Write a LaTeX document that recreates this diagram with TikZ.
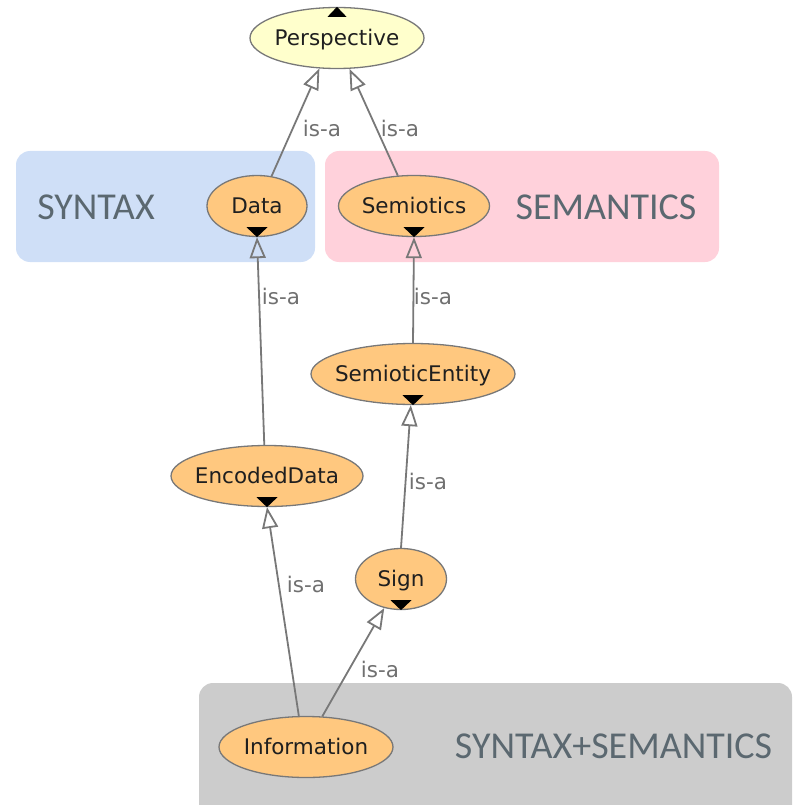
\documentclass[tikz,border=0pt]{standalone}
\usepackage{fontspec}
\setmainfont{DejaVu Sans}
\newfontfamily\regionfont{Carlito}
\usetikzlibrary{shapes.geometric,arrows.meta}
\definecolor{syntaxbg}{HTML}{CFDFF7}
\definecolor{semanticsbg}{HTML}{FFD1DB}
\definecolor{bothbg}{HTML}{CCCCCC}
\definecolor{regiontext}{HTML}{5B6870}
\definecolor{conceptfill}{HTML}{FFC87F}
\definecolor{rootfill}{HTML}{FFFFCC}
\definecolor{edgegray}{HTML}{787878}
\definecolor{labelgray}{HTML}{707070}

\begin{document}
\begin{tikzpicture}[x=1pt,y=-1pt,
  regionlabel/.style={font=\regionfont\fontsize{38}{44}\selectfont, text=regiontext, inner sep=0},
  concept/.style={ellipse, draw=edgegray, line width=1.3pt, fill=conceptfill, inner sep=0,
    minimum height=61pt, text height=15.7pt, text depth=0pt,
    font=\fontsize{21.5}{26}\selectfont, text=black!88},
  isa/.style={draw=edgegray, line width=1.8pt, -{Triangle[open, length=21pt, width=16pt]}},
  isalabel/.style={font=\fontsize{21.5}{26}\selectfont, text=labelgray, inner sep=0},
  marker/.style={fill=black},
]
\useasboundingbox (0,0) rectangle (794,805);

% shaded regions
\begin{scope}
  \clip (0,0) rectangle (794,805);
  \fill[syntaxbg, rounded corners=14pt] (16,151) rectangle (315,262);
  \fill[semanticsbg, rounded corners=14pt] (325,151) rectangle (719,262);
  \fill[bothbg, rounded corners=14pt] (199,683) rectangle (792,830);
\end{scope}
\node[regionlabel] (syn) at (96,207.5) {SYNTAX};
\node[regionlabel] (sem) at (606,207.5) {SEMANTICS};
\node[regionlabel] (synsem) at (613.5,746) {SYNTAX+SEMANTICS};

% concepts
\node[concept, fill=rootfill, minimum width=174pt] (persp) at (337,38) {\makebox[0pt]{Perspective}};
\node[concept, minimum width=100pt] (data) at (257,206) {\makebox[0pt]{Data}};
\node[concept, minimum width=151pt] (semio) at (414,206) {\makebox[0pt]{Semiotics}};
\node[concept, minimum width=204pt] (sement) at (413,374) {\makebox[0pt]{SemioticEntity}};
\node[concept, minimum width=192pt] (enc) at (267,476) {\makebox[0pt]{EncodedData}};
\node[concept, minimum width=91pt] (sign) at (401,579) {\makebox[0pt]{Sign}};
\node[concept, minimum width=174pt] (info) at (306,747) {\makebox[0pt]{Information}};

% expand / collapse markers
\foreach \n in {data,semio,sement,enc,sign}
  \fill[marker] (\n.south) -- ++(-10.5,-10) -- ++(21,0) -- cycle;
\fill[marker] (persp.north) -- ++(-9.5,10) -- ++(19,0) -- cycle;

% is-a relations
\draw[isa] (data.64) -- (persp.240);
\draw[isa] (semio.118) -- (persp.292);
\draw[isa] (enc.95) -- (data.south);
\draw[isa] (sement.north) -- (semio.south);
\draw[isa] (sign.north) -- (sement.266);
\draw[isa] (info.103) -- (enc.south);
\draw[isa] (info.62) -- (sign.240);

\node[isalabel] (l1) at (322,128) {is-a};
\node[isalabel] (l2) at (400,128) {is-a};
\node[isalabel] (l3) at (281,296) {is-a};
\node[isalabel] (l4) at (433,296) {is-a};
\node[isalabel] (l5) at (428,481) {is-a};
\node[isalabel] (l6) at (306,584) {is-a};
\node[isalabel] (l7) at (380,669) {is-a};
\end{tikzpicture}
\end{document}
